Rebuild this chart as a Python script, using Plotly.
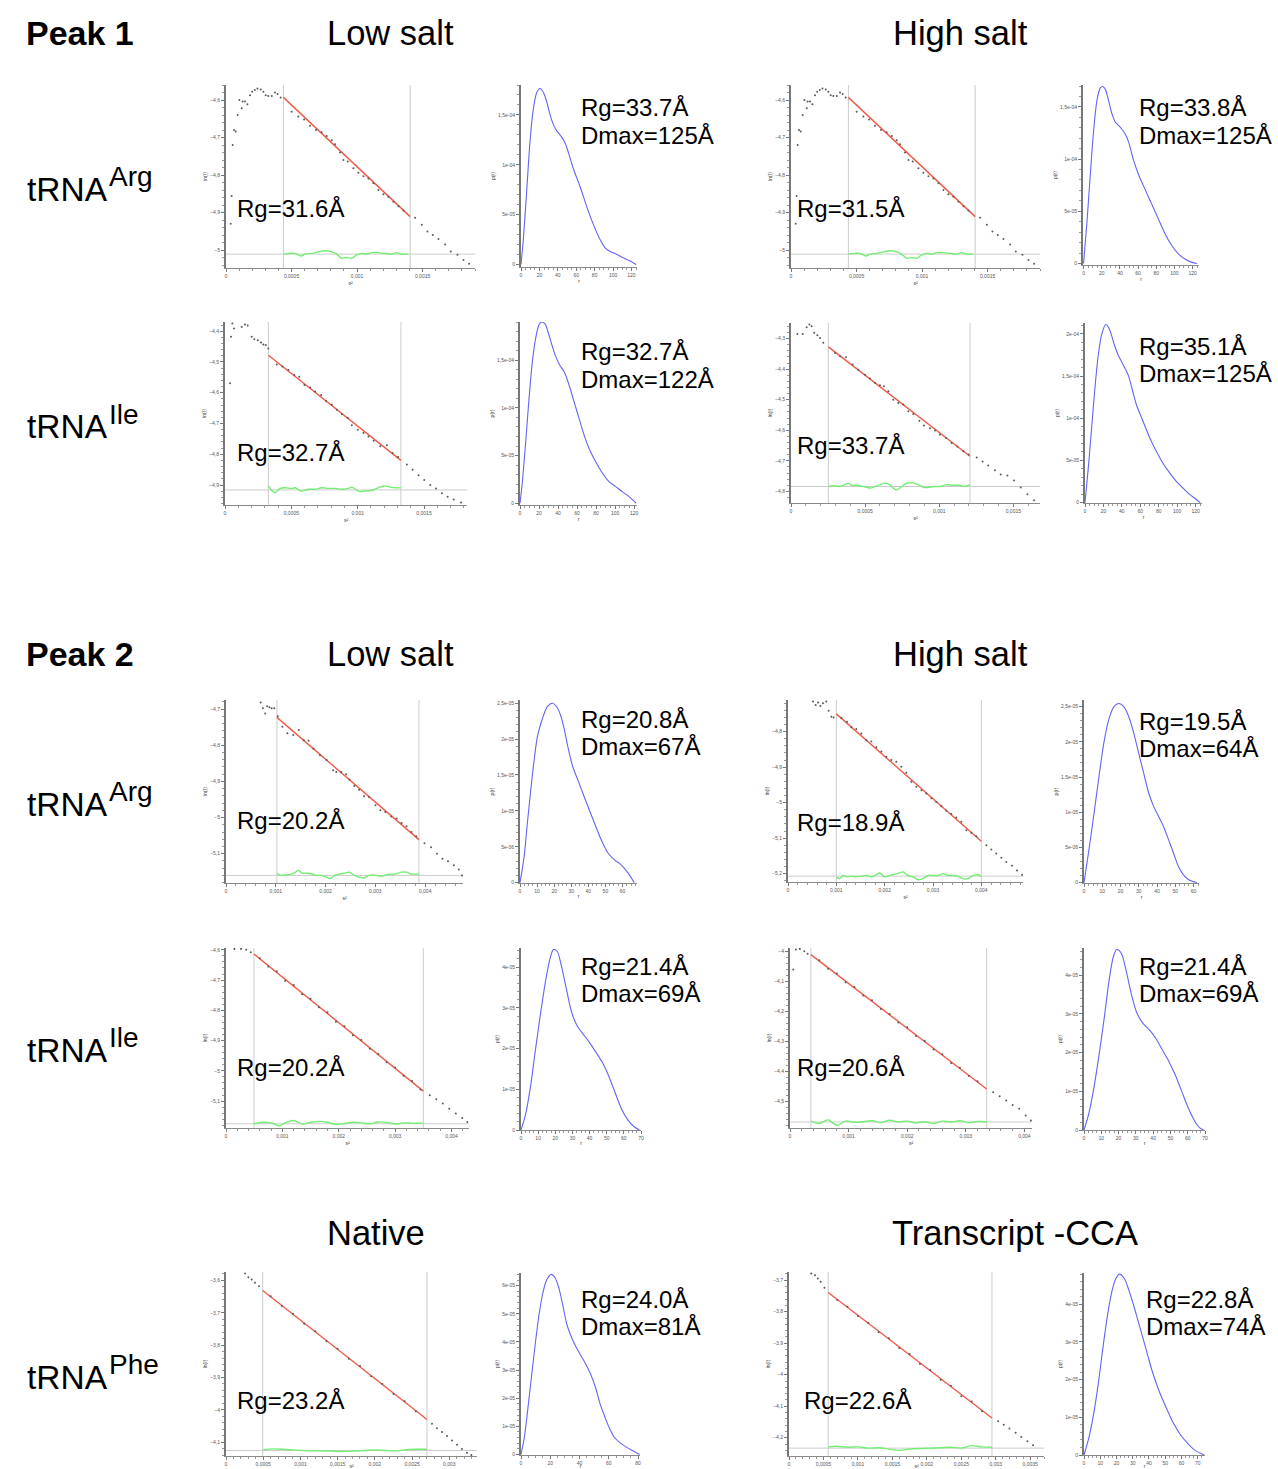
import plotly.graph_objects as go

W, H = 1278, 1469
FONT = "Liberation Sans, Arial, Helvetica, sans-serif"

# ---------------- Guinier data (s^2 vs ln I) ----------------
a1_s2 = [3.6e-5, 4.3e-5, 5.1e-5, 6.1e-5, 7.4e-5, 8.9e-5, 1.02e-4, 1.2e-4, 1.27e-4, 1.45e-4, 1.63e-4, 1.83e-4,
         2.0e-4, 2.2e-4, 2.4e-4, 2.65e-4, 2.85e-4, 3.03e-4, 3.23e-4, 3.49e-4, 3.74e-4, 3.94e-4, 4.17e-4,
         5.01e-4, 5.52e-4, 5.96e-4, 6.41e-4, 6.87e-4, 7.30e-4, 7.69e-4, 8.07e-4, 8.32e-4, 8.70e-4, 8.96e-4,
         9.29e-4, 9.72e-4, 1.010e-3, 1.049e-3, 1.087e-3, 1.125e-3, 1.163e-3, 1.201e-3, 1.239e-3, 1.278e-3,
         1.316e-3, 1.354e-3,
         1.443e-3, 1.494e-3, 1.537e-3, 1.578e-3, 1.621e-3, 1.672e-3, 1.715e-3, 1.766e-3, 1.812e-3, 1.855e-3]
a1_lnI = [-4.93, -4.856, -4.72, -4.68, -4.684, -4.64, -4.60, -4.622, -4.604, -4.604, -4.611, -4.587,
          -4.578, -4.573, -4.569, -4.572, -4.578, -4.587, -4.589, -4.589, -4.58, -4.584, -4.593,
          -4.631, -4.644, -4.652, -4.669, -4.680, -4.686, -4.696, -4.707, -4.718, -4.740, -4.760,
          -4.764, -4.782, -4.794, -4.803, -4.809, -4.822, -4.840, -4.851, -4.858, -4.871,
          -4.883, -4.895,
          -4.914, -4.933, -4.951, -4.960, -4.971, -4.985, -5.004, -5.013, -5.027, -5.037]
a1_fit_s2 = [4.38e-4, 1.405e-3]
a1_fit_lnI = [-4.593, -4.911]
a1_res_s2 = [4.38e-4, 4.89e-4, 5.27e-4, 5.73e-4, 6.03e-4, 6.54e-4, 7.05e-4, 7.56e-4, 8.07e-4, 8.45e-4, 8.83e-4,
             9.21e-4, 9.59e-4, 9.98e-4, 1.036e-3, 1.074e-3, 1.112e-3, 1.163e-3, 1.214e-3, 1.265e-3, 1.303e-3,
             1.341e-3, 1.392e-3]
a1_res = [-5.011, -5.009, -5.009, -5.016, -5.011, -5.009, -5.005, -5.002, -5.005, -5.011, -5.022, -5.020,
          -5.022, -5.013, -5.009, -5.011, -5.007, -5.007, -5.009, -5.011, -5.007, -5.011, -5.011]
a1_base = -5.011

# Peak 1 tRNA-Arg high salt looks identical to low salt
a3_s2 = list(a1_s2)
a3_lnI = list(a1_lnI)
a3_fit_s2 = list(a1_fit_s2)
a3_fit_lnI = list(a1_fit_lnI)
a3_res_s2 = list(a1_res_s2)
a3_res = list(a1_res)
a3_base = a1_base

b1_s2 = [3.8e-5, 4.5e-5, 5.5e-5, 6.8e-5, 1.26e-4, 1.51e-4, 1.71e-4, 2.01e-4, 2.21e-4, 2.47e-4, 2.72e-4, 2.89e-4,
         3.07e-4, 3.27e-4,
         3.90e-4, 4.33e-4, 4.78e-4, 5.23e-4, 5.59e-4, 5.99e-4, 6.42e-4, 6.79e-4, 7.25e-4, 7.62e-4, 8.05e-4,
         8.43e-4, 8.81e-4, 9.26e-4, 9.56e-4, 1.001e-3, 1.044e-3, 1.082e-3, 1.120e-3, 1.170e-3, 1.220e-3,
         1.263e-3, 1.305e-3,
         1.371e-3, 1.414e-3, 1.459e-3, 1.502e-3, 1.547e-3, 1.590e-3, 1.635e-3, 1.678e-3, 1.723e-3, 1.779e-3]
b1_lnI = [-4.569, -4.418, -4.375, -4.391, -4.386, -4.378, -4.381, -4.418, -4.426, -4.429, -4.437, -4.443,
          -4.445, -4.456,
          -4.508, -4.515, -4.526, -4.542, -4.548, -4.575, -4.583, -4.596, -4.607, -4.626, -4.639,
          -4.655, -4.670, -4.682, -4.706, -4.720, -4.731, -4.742, -4.756, -4.774, -4.771,
          -4.796, -4.809,
          -4.833, -4.850, -4.868, -4.884, -4.900, -4.911, -4.927, -4.938, -4.947, -4.957]
b1_fit_s2 = [3.27e-4, 1.326e-3]
b1_fit_lnI = [-4.478, -4.820]
b1_res_s2 = [3.27e-4, 3.52e-4, 3.77e-4, 4.15e-4, 4.53e-4, 5.03e-4, 5.28e-4, 5.79e-4, 6.29e-4, 6.79e-4, 7.30e-4,
             7.80e-4, 8.30e-4, 8.81e-4, 9.31e-4, 9.56e-4, 1.006e-3, 1.057e-3, 1.107e-3, 1.145e-3, 1.195e-3,
             1.245e-3, 1.283e-3, 1.326e-3]
b1_res = [-4.903, -4.917, -4.925, -4.911, -4.909, -4.911, -4.909, -4.920, -4.914, -4.914, -4.909, -4.911,
          -4.911, -4.914, -4.911, -4.907, -4.920, -4.920, -4.917, -4.911, -4.903, -4.907, -4.909, -4.909]
b1_base = -4.916

b3_s2 = [4.3e-5, 7.9e-5, 1.06e-4, 1.24e-4, 1.39e-4, 1.57e-4, 1.78e-4, 1.96e-4, 2.18e-4,
         2.97e-4, 3.31e-4, 3.71e-4, 4.16e-4, 4.54e-4, 4.99e-4, 5.33e-4, 5.67e-4, 6.00e-4, 6.27e-4, 6.57e-4,
         6.90e-4, 7.24e-4, 7.58e-4, 7.92e-4, 8.25e-4, 8.66e-4, 8.97e-4, 9.38e-4, 9.72e-4, 1.005e-3, 1.046e-3,
         1.084e-3, 1.122e-3, 1.163e-3, 1.198e-3,
         1.253e-3, 1.293e-3, 1.331e-3, 1.376e-3, 1.415e-3, 1.46e-3, 1.505e-3, 1.55e-3, 1.595e-3, 1.64e-3]
b3_lnI = [-4.285, -4.285, -4.263, -4.254, -4.260, -4.281, -4.289, -4.298, -4.314,
          -4.347, -4.358, -4.361, -4.385, -4.402, -4.418, -4.431, -4.445, -4.453, -4.456, -4.472,
          -4.500, -4.511, -4.516, -4.538, -4.547, -4.569, -4.584, -4.593, -4.601, -4.614, -4.625,
          -4.642, -4.653, -4.669, -4.679,
          -4.689, -4.702, -4.715, -4.731, -4.745, -4.748, -4.764, -4.787, -4.809, -4.829]
b3_fit_s2 = [2.52e-4, 1.208e-3]
b3_fit_lnI = [-4.327, -4.685]
b3_res_s2 = [2.52e-4, 2.86e-4, 3.31e-4, 3.64e-4, 3.87e-4, 4.09e-4, 4.43e-4, 4.88e-4, 5.33e-4, 5.67e-4, 6.00e-4,
             6.34e-4, 6.68e-4, 6.90e-4, 7.13e-4, 7.47e-4, 7.80e-4, 8.25e-4, 8.59e-4, 8.93e-4, 9.27e-4, 9.60e-4,
             1.005e-3, 1.050e-3, 1.095e-3, 1.140e-3, 1.174e-3, 1.208e-3]
b3_res = [-4.784, -4.781, -4.784, -4.778, -4.773, -4.780, -4.780, -4.784, -4.789, -4.784, -4.778, -4.773,
          -4.778, -4.789, -4.795, -4.784, -4.773, -4.773, -4.778, -4.787, -4.787, -4.784, -4.784, -4.778,
          -4.780, -4.780, -4.784, -4.778]
b3_base = -4.784

c1_s2 = [6.95e-4, 7.41e-4, 7.87e-4, 8.26e-4, 8.72e-4, 9.18e-4, 9.7e-4,
         1.040e-3, 1.134e-3, 1.233e-3, 1.351e-3, 1.462e-3, 1.561e-3, 1.659e-3, 1.757e-3, 1.888e-3, 2.020e-3,
         2.151e-3, 2.216e-3, 2.315e-3, 2.413e-3, 2.479e-3, 2.577e-3, 2.675e-3, 2.774e-3, 2.872e-3, 3.003e-3,
         3.101e-3, 3.200e-3, 3.318e-3, 3.429e-3, 3.528e-3, 3.626e-3, 3.724e-3, 3.820e-3,
         3.987e-3, 4.118e-3, 4.236e-3, 4.347e-3, 4.459e-3, 4.577e-3, 4.675e-3, 4.741e-3]
c1_lnI = [-4.682, -4.698, -4.712, -4.692, -4.695, -4.698, -4.698,
          -4.720, -4.749, -4.767, -4.772, -4.758, -4.786, -4.788, -4.809, -4.828, -4.841,
          -4.869, -4.874, -4.874, -4.880, -4.895, -4.913, -4.923, -4.941, -4.943, -4.966,
          -4.980, -4.985, -4.997, -5.003, -5.015, -5.024, -5.040, -5.052,
          -5.071, -5.082, -5.100, -5.114, -5.121, -5.132, -5.144, -5.160]
c1_fit_s2 = [1.023e-3, 3.875e-3]
c1_fit_lnI = [-4.723, -5.061]
c1_res_s2 = [1.023e-3, 1.102e-3, 1.200e-3, 1.298e-3, 1.397e-3, 1.462e-3, 1.528e-3, 1.626e-3, 1.724e-3, 1.823e-3,
             1.921e-3, 2.020e-3, 2.098e-3, 2.184e-3, 2.282e-3, 2.380e-3, 2.479e-3, 2.577e-3, 2.675e-3, 2.774e-3,
             2.872e-3, 3.003e-3, 3.134e-3, 3.265e-3, 3.397e-3, 3.528e-3, 3.626e-3, 3.724e-3, 3.875e-3]
c1_res = [-5.154, -5.160, -5.158, -5.157, -5.151, -5.146, -5.154, -5.154, -5.156, -5.160,
          -5.160, -5.165, -5.169, -5.160, -5.156, -5.154, -5.151, -5.160, -5.165, -5.167,
          -5.160, -5.160, -5.162, -5.157, -5.156, -5.151, -5.151, -5.156, -5.156]
c1_base = -5.160

c3_s2 = [5.17e-4, 5.72e-4, 6.21e-4, 6.69e-4, 7.24e-4, 7.93e-4, 8.41e-4, 8.97e-4, 9.45e-4,
         1.104e-3, 1.221e-3, 1.310e-3, 1.414e-3, 1.517e-3, 1.621e-3, 1.724e-3, 1.828e-3, 1.931e-3, 2.035e-3,
         2.138e-3, 2.241e-3, 2.345e-3, 2.448e-3, 2.552e-3, 2.655e-3, 2.759e-3, 2.862e-3, 2.966e-3, 3.069e-3,
         3.172e-3, 3.276e-3, 3.379e-3, 3.483e-3, 3.586e-3, 3.690e-3, 3.793e-3, 3.897e-3,
         4.104e-3, 4.207e-3, 4.31e-3, 4.414e-3, 4.517e-3, 4.635e-3, 4.738e-3, 4.842e-3]
c3_lnI = [-4.715, -4.725, -4.718, -4.728, -4.720, -4.715, -4.741, -4.758, -4.760,
          -4.762, -4.772, -4.788, -4.793, -4.805, -4.824, -4.828, -4.844, -4.856, -4.871,
          -4.880, -4.885, -4.899, -4.916, -4.941, -4.955, -4.965, -4.974, -4.988, -4.998,
          -5.010, -5.023, -5.031, -5.042, -5.054, -5.078, -5.085, -5.095,
          -5.120, -5.132, -5.143, -5.155, -5.167, -5.178, -5.191, -5.203]
c3_fit_s2 = [1.0e-3, 4.0e-3]
c3_fit_lnI = [-4.750, -5.109]
c3_res_s2 = [1.0e-3, 1.069e-3, 1.138e-3, 1.221e-3, 1.310e-3, 1.414e-3, 1.517e-3, 1.621e-3, 1.724e-3, 1.828e-3,
             1.897e-3, 2.0e-3, 2.104e-3, 2.207e-3, 2.310e-3, 2.379e-3, 2.483e-3, 2.586e-3, 2.690e-3, 2.793e-3,
             2.897e-3, 3.0e-3, 3.104e-3, 3.207e-3, 3.310e-3, 3.414e-3, 3.517e-3, 3.621e-3, 3.724e-3, 3.828e-3,
             3.931e-3, 4.0e-3]
c3_res = [-5.209, -5.214, -5.205, -5.209, -5.207, -5.209, -5.207, -5.205, -5.209, -5.203,
          -5.198, -5.209, -5.205, -5.202, -5.198, -5.195, -5.205, -5.209, -5.217, -5.214,
          -5.205, -5.205, -5.205, -5.200, -5.205, -5.205, -5.207, -5.214, -5.214, -5.205,
          -5.203, -5.207]
c3_base = -5.207

d1_s2 = [1.5e-4, 2.66e-4, 3.58e-4, 4.39e-4,
         6.0e-4, 7.5e-4, 9.0e-4, 1.05e-3, 1.2e-3, 1.35e-3, 1.5e-3, 1.65e-3, 1.8e-3, 1.95e-3, 2.1e-3, 2.25e-3,
         2.4e-3, 2.55e-3, 2.7e-3, 2.85e-3, 3.0e-3, 3.15e-3, 3.3e-3, 3.45e-3,
         3.614e-3, 3.73e-3, 3.845e-3, 3.96e-3, 4.076e-3, 4.19e-3, 4.28e-3]
d1_lnI = [-4.597, -4.597, -4.600, -4.608,
          -4.628, -4.655, -4.671, -4.702, -4.716, -4.747, -4.762, -4.790, -4.806, -4.838, -4.853, -4.882,
          -4.898, -4.927, -4.944, -4.972, -4.989, -5.016, -5.034, -5.062,
          -5.081, -5.094, -5.108, -5.125, -5.141, -5.156, -5.169]
d1_fit_s2 = [4.96e-4, 3.5e-3]
d1_fit_lnI = [-4.614, -5.067]
d1_res_s2 = [4.96e-4, 6.5e-4, 8e-4, 9.5e-4, 1.05e-3, 1.2e-3, 1.35e-3, 1.5e-3, 1.65e-3, 1.8e-3, 1.95e-3, 2.1e-3,
             2.25e-3, 2.4e-3, 2.55e-3, 2.7e-3, 2.85e-3, 3.0e-3, 3.15e-3, 3.3e-3, 3.5e-3]
d1_res = [-5.175, -5.170, -5.172, -5.182, -5.172, -5.164, -5.176, -5.170, -5.167, -5.170, -5.177, -5.174,
          -5.170, -5.172, -5.175, -5.169, -5.171, -5.176, -5.172, -5.173, -5.173]
d1_base = -5.175

d3_s2 = [5.6e-5, 1.0e-4, 1.67e-4, 2.44e-4, 3.0e-4,
         5.0e-4, 6.5e-4, 8.0e-4, 9.5e-4, 1.1e-3, 1.25e-3, 1.4e-3, 1.55e-3, 1.7e-3, 1.85e-3, 2.0e-3, 2.15e-3,
         2.3e-3, 2.45e-3, 2.6e-3, 2.75e-3, 2.9e-3, 3.05e-3, 3.2e-3,
         3.467e-3, 3.578e-3, 3.689e-3, 3.8e-3, 3.911e-3, 4.022e-3, 4.11e-3]
d3_lnI = [-4.061, -3.994, -3.992, -4.000, -4.008,
          -4.030, -4.058, -4.074, -4.103, -4.119, -4.147, -4.163, -4.192, -4.209, -4.237, -4.253, -4.282,
          -4.299, -4.327, -4.343, -4.372, -4.388, -4.416, -4.433,
          -4.470, -4.483, -4.497, -4.512, -4.525, -4.547, -4.564]
d3_fit_s2 = [3.56e-4, 3.356e-3]
d3_fit_lnI = [-4.011, -4.459]
d3_res_s2 = [3.56e-4, 5e-4, 6.5e-4, 8e-4, 9.5e-4, 1.1e-3, 1.25e-3, 1.4e-3, 1.55e-3, 1.7e-3, 1.85e-3, 2.0e-3,
             2.15e-3, 2.3e-3, 2.45e-3, 2.6e-3, 2.75e-3, 2.9e-3, 3.05e-3, 3.2e-3, 3.356e-3]
d3_res = [-4.566, -4.574, -4.562, -4.580, -4.566, -4.570, -4.568, -4.565, -4.571, -4.563, -4.569, -4.566,
          -4.572, -4.568, -4.574, -4.566, -4.569, -4.565, -4.571, -4.567, -4.568]
d3_base = -4.569

e1_s2 = [2.56e-4, 3.0e-4, 3.45e-4, 3.9e-4, 4.44e-4,
         6.0e-4, 7.5e-4, 9.0e-4, 1.05e-3, 1.2e-3, 1.35e-3, 1.5e-3, 1.65e-3, 1.8e-3, 1.95e-3, 2.1e-3, 2.25e-3,
         2.4e-3, 2.55e-3,
         2.767e-3, 2.834e-3, 2.901e-3, 2.969e-3, 3.036e-3, 3.103e-3, 3.17e-3, 3.238e-3, 3.296e-3]
e1_lnI = [-3.579, -3.590, -3.597, -3.607, -3.618,
          -3.649, -3.679, -3.703, -3.734, -3.757, -3.788, -3.811, -3.842, -3.865, -3.896, -3.920, -3.951,
          -3.974, -4.005,
          -4.043, -4.057, -4.069, -4.081, -4.095, -4.108, -4.121, -4.133, -4.140]
e1_fit_s2 = [4.93e-4, 2.70e-3]
e1_fit_lnI = [-3.631, -4.030]
e1_res_s2 = [4.93e-4, 6.5e-4, 8e-4, 9.5e-4, 1.1e-3, 1.25e-3, 1.4e-3, 1.55e-3, 1.7e-3, 1.85e-3, 2.0e-3, 2.15e-3,
             2.3e-3, 2.45e-3, 2.6e-3, 2.70e-3]
e1_res = [-4.124, -4.121, -4.123, -4.125, -4.127, -4.127, -4.128, -4.129, -4.128, -4.126, -4.124, -4.126,
          -4.127, -4.123, -4.122, -4.122]
e1_base = -4.126

e3_s2 = [3.22e-4, 3.77e-4, 4.18e-4, 4.59e-4, 5.14e-4,
         7.0e-4, 8.5e-4, 1.0e-3, 1.15e-3, 1.3e-3, 1.45e-3, 1.6e-3, 1.75e-3, 1.9e-3, 2.05e-3, 2.2e-3, 2.35e-3,
         2.5e-3, 2.65e-3, 2.8e-3,
         3.034e-3, 3.116e-3, 3.199e-3, 3.288e-3, 3.37e-3, 3.459e-3, 3.541e-3]
e3_lnI = [-3.679, -3.684, -3.695, -3.705, -3.724,
          -3.763, -3.784, -3.814, -3.835, -3.865, -3.884, -3.915, -3.934, -3.966, -3.985, -4.016, -4.035,
          -4.068, -4.085, -4.116,
          -4.148, -4.159, -4.171, -4.184, -4.198, -4.211, -4.224]
e3_fit_s2 = [5.68e-4, 2.945e-3]
e3_fit_lnI = [-3.739, -4.1375]
e3_res_s2 = [5.68e-4, 6.8e-4, 8.5e-4, 1.0e-3, 1.15e-3, 1.3e-3, 1.45e-3, 1.6e-3, 1.75e-3, 1.9e-3, 2.05e-3, 2.2e-3,
             2.35e-3, 2.5e-3, 2.65e-3, 2.8e-3, 2.945e-3]
e3_res = [-4.229, -4.227, -4.230, -4.229, -4.233, -4.232, -4.236, -4.240, -4.236, -4.234, -4.233, -4.232,
          -4.230, -4.233, -4.225, -4.229, -4.230]
e3_base = -4.233

# ---------------- P(r) data (r in Å, p in relative tick units) ----------------
a2_r = [0, 2.5, 6.2, 9.8, 13.5, 17.1, 20.7, 24.4, 28, 31.6, 35.3, 38.9, 44.4, 48, 51.6, 57.1, 64.4, 71.6, 78.9,
        86.2, 91.6, 97.1, 104.4, 111.6, 118.9, 125.1]
a2_p = [0, 0.49, 1.48, 2.47, 3.13, 3.45, 3.53, 3.45, 3.26, 3.0, 2.80, 2.68, 2.55, 2.43, 2.24, 1.91, 1.55, 1.15, 0.79,
        0.49, 0.33, 0.26, 0.20, 0.13, 0.066, 0]
a4_r = [0, 3.7, 7.3, 11, 14.7, 18.3, 21, 23.9, 27.5, 31.2, 34.9, 40.4, 45.9, 49.5, 55, 60.6, 67.9, 75.2, 82.6, 89.9,
        97.2, 104.6, 111.9, 119.3, 124.8]
a4_p = [0, 0.78, 1.67, 2.53, 3.12, 3.36, 3.39, 3.34, 3.12, 2.87, 2.71, 2.61, 2.48, 2.33, 1.98, 1.70, 1.41, 1.13,
        0.84, 0.56, 0.34, 0.18, 0.08, 0.02, 0]
b2_r = [0, 2.5, 6.0, 9.5, 13.0, 16.5, 20.0, 22.8, 26.3, 29.8, 34.0, 37.5, 41.7, 46.3, 51.6, 56.8, 62.1, 67.4, 72.6,
        79.6, 86.7, 93.7, 100.7, 107.7, 114.7, 122.1]
b2_p = [0, 0.45, 1.29, 2.20, 2.97, 3.46, 3.74, 3.80, 3.76, 3.57, 3.29, 3.08, 2.90, 2.76, 2.48, 2.13, 1.78, 1.43,
        1.15, 0.87, 0.63, 0.45, 0.35, 0.24, 0.14, 0]
b4_r = [0, 3.6, 7.2, 10.8, 14.4, 18.0, 22.7, 27.0, 31.3, 36.0, 41.4, 46.8, 50.4, 55.8, 63.0, 70.2, 77.4, 84.5, 91.7,
        98.9, 106.1, 113.3, 120.5, 125]
b4_p = [0, 0.83, 1.77, 2.72, 3.50, 3.98, 4.23, 4.09, 3.78, 3.50, 3.27, 3.03, 2.76, 2.32, 1.93, 1.54, 1.22, 0.94,
        0.71, 0.51, 0.35, 0.20, 0.08, 0]
c2_r = [0, 2.4, 4.3, 6.3, 8.3, 10.2, 13.2, 16.1, 19.1, 22.0, 24.0, 26.0, 28.0, 30.9, 33.9, 36.8, 39.8, 43.7, 47.6,
        51.6, 55.5, 59.4, 63.4, 66.9]
c2_p = [0, 0.72, 1.65, 2.58, 3.42, 4.07, 4.58, 4.91, 5.0, 4.86, 4.63, 4.26, 3.79, 3.23, 2.86, 2.49, 2.12, 1.65,
        1.19, 0.82, 0.63, 0.49, 0.26, 0]
c4_r = [0, 2.7, 5.5, 8.2, 10.9, 13.6, 16.4, 19.1, 21.8, 24.5, 27.3, 30.0, 32.7, 35.5, 38.2, 40.9, 43.6, 46.4, 49.1,
        51.8, 54.5, 57.3, 61.8]
c4_p = [0, 0.93, 1.97, 3.01, 3.98, 4.64, 5.0, 5.09, 5.0, 4.72, 4.24, 3.67, 3.11, 2.54, 2.16, 1.88, 1.59, 1.21,
        0.83, 0.45, 0.22, 0.08, 0]
d2_r = [0, 2.6, 5.7, 8.3, 11.3, 14.3, 17.0, 18.9, 21.1, 23.4, 26.4, 29.4, 32.5, 35.8, 39.6, 43.4, 47.2, 50.9, 54.7,
        58.5, 62.3, 66.0, 69.1]
d2_p = [0, 0.37, 1.11, 1.93, 2.83, 3.65, 4.22, 4.43, 4.39, 4.06, 3.48, 2.91, 2.58, 2.38, 2.17, 1.93, 1.68, 1.35,
        0.94, 0.53, 0.25, 0.08, 0]
d4_r = [0, 2.6, 5.7, 8.7, 11.7, 14.7, 17.0, 18.9, 21.5, 24.5, 27.5, 30.6, 34.0, 37.7, 41.5, 45.3, 49.1, 52.8, 56.6,
        60.4, 64.2, 66.8, 69.1]
d4_p = [0, 0.39, 1.08, 1.94, 2.89, 3.92, 4.48, 4.66, 4.57, 4.09, 3.49, 3.02, 2.76, 2.59, 2.37, 2.07, 1.77, 1.42,
        0.99, 0.56, 0.22, 0.06, 0]
e2_r = [0, 2.3, 4.5, 7.1, 9.7, 12.3, 14.9, 17.5, 20.7, 23.3, 25.9, 28.5, 31.4, 34.7, 37.9, 41.2, 44.4, 47.6, 50.9,
        54.1, 57.4, 60.6, 63.8, 68.0, 71.9, 76.8, 81.0]
e2_p = [0, 0.61, 1.55, 2.73, 3.91, 4.96, 5.73, 6.2, 6.4, 6.28, 5.91, 5.32, 4.61, 4.14, 3.79, 3.49, 3.20, 2.85, 2.38,
        1.79, 1.32, 0.91, 0.61, 0.40, 0.26, 0.12, 0]
e4_r = [0, 2.9, 5.8, 8.7, 11.6, 14.5, 17.4, 19.7, 21.8, 24.7, 27.6, 30.5, 33.4, 36.3, 39.2, 42.1, 46.4, 50.8, 55.1,
        59.5, 63.8, 68.2, 74.0]
e4_p = [0, 0.44, 1.06, 1.86, 2.83, 3.72, 4.38, 4.69, 4.80, 4.69, 4.38, 3.98, 3.54, 3.10, 2.65, 2.21, 1.68, 1.24,
        0.84, 0.53, 0.31, 0.13, 0]

# p(r) tick labels
pr_ticks_a = ["0", "5e-05", "1e-04", "1,5e-04"]
pr_ticks_b4 = ["0", "5e-05", "1e-04", "1,5e-04", "2e-04"]
pr_ticks_c = ["0", "5e-06", "1e-05", "1,5e-05", "2e-05", "2,5e-05"]
pr_ticks_d = ["0", "1e-05", "2e-05", "3e-05", "4e-05"]
pr_ticks_e2 = ["0", "1e-05", "2e-05", "3e-05", "4e-05", "5e-05", "6e-05"]

# ---------------- text ----------------
guinier_rg = ["Rg=31.6Å", "Rg=31.5Å", "Rg=32.7Å", "Rg=33.7Å", "Rg=20.2Å", "Rg=18.9Å",
              "Rg=20.2Å", "Rg=20.6Å", "Rg=23.2Å", "Rg=22.6Å"]
pr_rg = ["Rg=33.7Å", "Rg=33.8Å", "Rg=32.7Å", "Rg=35.1Å", "Rg=20.8Å", "Rg=19.5Å",
         "Rg=21.4Å", "Rg=21.4Å", "Rg=24.0Å", "Rg=22.8Å"]
pr_dmax = ["Dmax=125Å", "Dmax=125Å", "Dmax=122Å", "Dmax=125Å", "Dmax=67Å", "Dmax=64Å",
           "Dmax=69Å", "Dmax=69Å", "Dmax=81Å", "Dmax=74Å"]
headers = ["Peak 1", "Low salt", "High salt", "Peak 2", "Low salt", "High salt", "Native", "Transcript -CCA"]
row_sup = ["Arg", "Ile", "Arg", "Ile", "Phe"]

# ---------------- figure ----------------
fig = go.Figure()
layout = {}
shapes = []
annotations = []

tickfont = dict(family=FONT, size=5, color="#555555")
titlefont = dict(family=FONT, size=5, color="#333333")


def dom_x(x0, x1):
    return [x0 / W, x1 / W]


def dom_y(top, bot):
    return [1 - bot / H, 1 - top / H]


def axis_common(**kw):
    d = dict(showgrid=False, zeroline=False, showline=True, linecolor="#8a8a8a", linewidth=1,
             ticks="outside", ticklen=3, tickwidth=1, tickcolor="#777777", tickfont=tickfont,
             minexponent=20, fixedrange=True)
    d.update(kw)
    return d


counter = [0]


def new_axes(box, xr, yr, xkw, ykw):
    counter[0] += 1
    i = counter[0]
    sfx = "" if i == 1 else str(i)
    x0, x1, top, bot = box
    layout["xaxis" + sfx] = axis_common(domain=dom_x(x0, x1), range=xr, anchor="y" + sfx, **xkw)
    layout["yaxis" + sfx] = axis_common(domain=dom_y(top, bot), range=yr, anchor="x" + sfx, **ykw)
    return "x" + sfx, "y" + sfx


def guinier(box, xr, yr, xd, s2, lnI, fs2, flnI, rs2, rv, base):
    xa, ya = new_axes(
        box, xr, yr,
        dict(tick0=0, dtick=xd,
             minor=dict(tick0=0, dtick=xd / 5, ticks="outside", ticklen=2, tickcolor="#999999"),
             title=dict(text="s²", font=titlefont, standoff=3)),
        dict(tick0=0, dtick=0.1, linewidth=2, linecolor="#777777",
             minor=dict(tick0=0, dtick=0.02, ticks="outside", ticklen=2, tickcolor="#999999"),
             title=dict(text="ln(I)", font=titlefont, standoff=2)))
    for xv in (fs2[0], fs2[-1]):
        shapes.append(dict(type="line", xref=xa, yref=ya + " domain", x0=xv, x1=xv, y0=0, y1=1,
                           line=dict(color="#cccccc", width=1), layer="below"))
    shapes.append(dict(type="line", xref=xa + " domain", yref=ya, x0=0, x1=1, y0=base, y1=base,
                       line=dict(color="#cccccc", width=1), layer="below"))
    fig.add_trace(go.Scatter(x=rs2, y=rv, mode="lines", xaxis=xa, yaxis=ya,
                             line=dict(color="#72ee72", width=1.4, shape="spline"), hoverinfo="skip"))
    fig.add_trace(go.Scatter(x=fs2, y=flnI, mode="lines", xaxis=xa, yaxis=ya,
                             line=dict(color="#f05a48", width=1.4), hoverinfo="skip"))
    fig.add_trace(go.Scatter(x=s2, y=lnI, mode="markers", xaxis=xa, yaxis=ya,
                             marker=dict(size=2, color="#5a5a5a"), hoverinfo="skip"))


def pr(box, xr, yr, xd, r, p, ylabels):
    xa, ya = new_axes(
        box, xr, yr,
        dict(tick0=0, dtick=xd,
             minor=dict(tick0=0, dtick=xd / 4, ticks="outside", ticklen=2, tickcolor="#999999"),
             title=dict(text="r", font=titlefont, standoff=1)),
        dict(tickmode="array", tickvals=list(range(len(ylabels))), ticktext=ylabels,
             linewidth=2, linecolor="#777777",
             minor=dict(tickmode="linear", tick0=0, dtick=0.2, ticks="outside", ticklen=2, tickcolor="#999999"),
             title=dict(text="p(r)", font=titlefont, standoff=2)))
    fig.add_trace(go.Scatter(x=r, y=p, mode="lines", xaxis=xa, yaxis=ya,
                             line=dict(color="#6464f5", width=1.1, shape="spline", smoothing=0.8),
                             hoverinfo="skip"))


# Row 1 - Peak 1 tRNA Arg
guinier((226, 475, 85, 268), [0, 0.0019], [-5.048, -4.56], 0.0005,
        a1_s2, a1_lnI, a1_fit_s2, a1_fit_lnI, a1_res_s2, a1_res, a1_base)
pr((521, 637, 85, 267), [0, 126], [-0.05, 3.6], 20, a2_r, a2_p, pr_ticks_a)
guinier((791, 1040, 85, 268), [0, 0.0019], [-5.048, -4.56], 0.0005,
        a3_s2, a3_lnI, a3_fit_s2, a3_fit_lnI, a3_res_s2, a3_res, a3_base)
pr((1083, 1199, 85, 265), [-0.6, 127], [-0.03, 3.42], 20, a4_r, a4_p, pr_ticks_a)
# Row 2 - Peak 1 tRNA Ile
guinier((225, 467, 322, 505), [0, 0.001824], [-4.965, -4.37], 0.0005,
        b1_s2, b1_lnI, b1_fit_s2, b1_fit_lnI, b1_res_s2, b1_res, b1_base)
pr((520, 637, 322, 505), [0, 123], [-0.036, 3.80], 20, b2_r, b2_p, pr_ticks_a)
guinier((791, 1040, 323, 503), [0, 0.00168], [-4.838, -4.249], 0.0005,
        b3_s2, b3_lnI, b3_fit_s2, b3_fit_lnI, b3_res_s2, b3_res, b3_base)
pr((1085, 1202, 323, 503), [0, 127], [-0.01, 4.26], 20, b4_r, b4_p, pr_ticks_b4)
# Row 3 - Peak 2 tRNA Arg
guinier((226, 463, 700, 883), [0, 0.00476], [-5.181, -4.675], 0.001,
        c1_s2, c1_lnI, c1_fit_s2, c1_fit_lnI, c1_res_s2, c1_res, c1_base)
pr((520, 637, 700, 883), [0, 68.5], [-0.01, 5.09], 10, c2_r, c2_p, pr_ticks_c)
guinier((788, 1023, 700, 882), [0, 0.004862], [-5.2235, -4.711], 0.001,
        c3_s2, c3_lnI, c3_fit_s2, c3_fit_lnI, c3_res_s2, c3_res, c3_base)
pr((1084, 1199, 700, 883), [0, 63], [-0.01, 5.19], 10, c4_r, c4_p, pr_ticks_c)
# Row 4 - Peak 2 tRNA Ile
guinier((226, 469, 948, 1128), [0, 0.00431], [-5.189, -4.594], 0.001,
        d1_s2, d1_lnI, d1_fit_s2, d1_fit_lnI, d1_res_s2, d1_res, d1_base)
pr((521, 641, 948, 1130), [0, 70], [0, 4.47], 10, d2_r, d2_p, pr_ticks_d)
guinier((790, 1032, 948, 1128), [0, 0.00413], [-4.589, -3.989], 0.001,
        d3_s2, d3_lnI, d3_fit_s2, d3_fit_lnI, d3_res_s2, d3_res, d3_base)
pr((1084, 1205, 948, 1130), [0, 70], [0, 4.70], 10, d4_r, d4_p, pr_ticks_d)
# Row 5 - tRNA Phe
guinier((226, 477, 1272, 1456), [0, 0.003372], [-4.143, -3.574], 0.0005,
        e1_s2, e1_lnI, e1_fit_s2, e1_fit_lnI, e1_res_s2, e1_res, e1_base)
pr((521, 640, 1273, 1455), [0, 81.3], [-0.02, 6.45], 20, e2_r, e2_p, pr_ticks_e2)
guinier((789, 1044, 1272, 1456), [0, 0.0037], [-4.258, -3.674], 0.0005,
        e3_s2, e3_lnI, e3_fit_s2, e3_fit_lnI, e3_res_s2, e3_res, e3_base)
pr((1084, 1205, 1273, 1455), [0, 74.5], [0, 4.83], 10, e4_r, e4_p, pr_ticks_d)


def txt(x, y, s, size, bold=False, xanchor="left"):
    annotations.append(dict(
        text=("<b>%s</b>" % s) if bold else s, x=x / W, y=1 - y / H, xref="paper", yref="paper",
        xanchor=xanchor, yanchor="middle", showarrow=False,
        font=dict(family=FONT, size=size, color="#000000")))


# headers
header_pos = [(24, 33, "left", True), (390, 33, "center", False), (960, 33, "center", False),
              (24, 654, "left", True), (390, 654, "center", False), (960, 654, "center", False),
              (376, 1233, "center", False), (1015, 1233, "center", False)]
for s, (hx, hy, anc, b) in zip(headers, header_pos):
    txt(hx, hy, s, 34 if b else 34.5, bold=b, xanchor=anc)

# row labels
row_y = [190, 427, 804, 1050, 1377]
for s, ry in zip(row_sup, row_y):
    txt(25, ry, "tRNA", 33.5)
    txt(107, ry - 13, s, 28)

# Guinier Rg labels
g_pos = [(235, 209), (795, 209), (235, 453), (795, 446), (235, 820), (795, 822),
         (235, 1067), (795, 1067), (235, 1400), (802, 1400)]
for s, (gx, gy) in zip(guinier_rg, g_pos):
    txt(gx, gy, s, 24)

# P(r) Rg / Dmax labels
p_pos = [(579, 108), (1137, 108), (579, 352), (1137, 346), (579, 719), (1137, 721),
         (579, 966), (1137, 966), (579, 1299), (1144, 1299)]
for s1, s2, (qx, qy) in zip(pr_rg, pr_dmax, p_pos):
    txt(qx, qy, s1, 24)
    txt(qx, qy + 27, s2, 24)

fig.update_layout(
    width=W, height=H, margin=dict(l=0, r=0, t=0, b=0),
    paper_bgcolor="white", plot_bgcolor="white", template="none",
    showlegend=False, separators=", ",
    shapes=shapes, annotations=annotations,
    **layout)

fig.write_html("out.html", config={"displayModeBar": False},
               post_script="document.body.style.margin='0';document.body.style.overflow='hidden';")
